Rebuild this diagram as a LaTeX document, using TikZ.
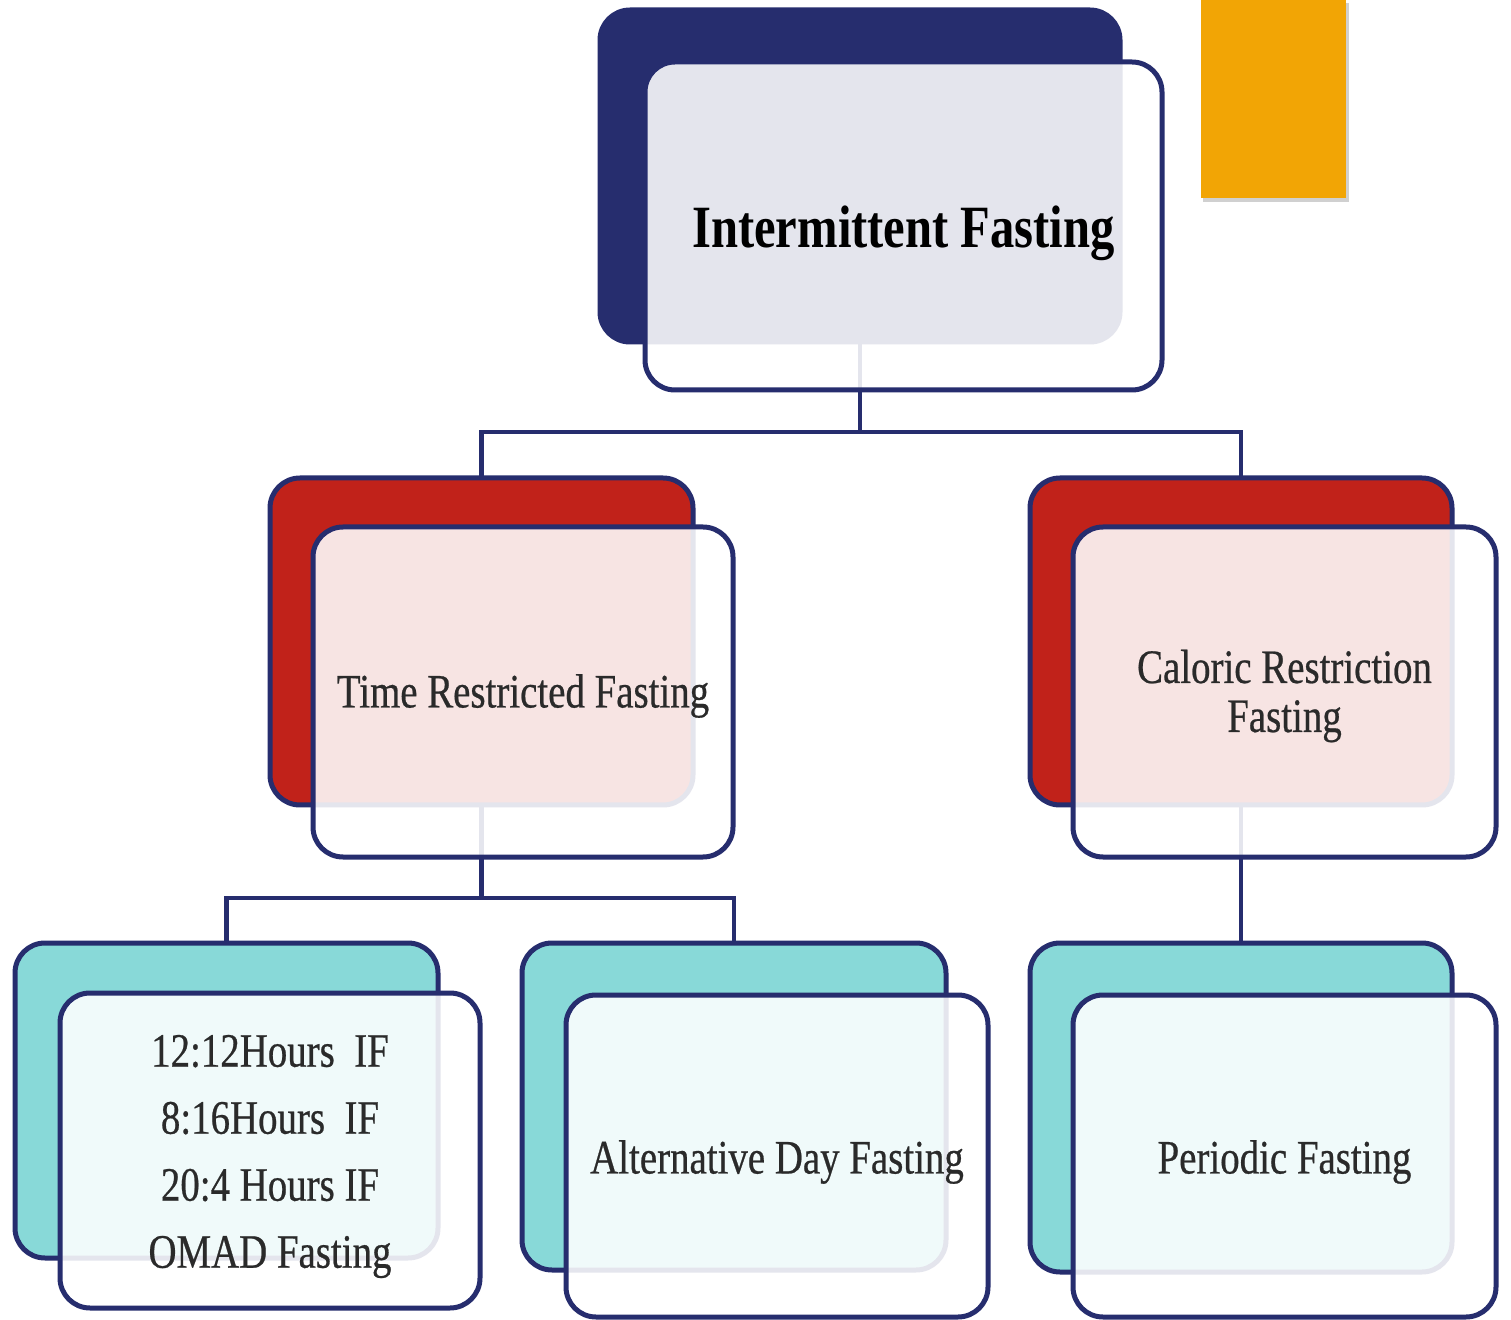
\documentclass[tikz,border=0pt]{standalone}
\usepackage{fontspec}
\setmainfont[FakeStretch=0.81]{Liberation Serif}
\newfontfamily\lblfont[FakeStretch=0.81,FakeBold=0.5]{Liberation Serif}
\definecolor{navy}{HTML}{262D6E}
\definecolor{ifred}{HTML}{C1221A}
\definecolor{ifteal}{HTML}{88D9D8}
\definecolor{iforange}{HTML}{F2A505}
\definecolor{txt}{HTML}{2A2A2A}
\begin{document}
\begin{tikzpicture}[x=0.5pt,y=-0.5pt,
  backbox/.style={draw=navy, line width=2.5pt, rounded corners=15pt, anchor=north west, inner sep=0pt, outer sep=0pt},
  frontbox/.style={draw=navy, line width=2.5pt, rounded corners=15pt, anchor=north west, inner sep=0pt, outer sep=0pt,
    fill=white, fill opacity=0.88},
  lbl/.style={text=txt, align=center, inner sep=0pt, font=\lblfont\fontsize{24}{33.5}\selectfont},
  conn/.style={draw=navy, line width=2.2pt}]
\useasboundingbox (0,0) rectangle (1511,1320);
\fill[white] (0,0) rectangle (1511,1320);
% orange accent
\fill[black!30, opacity=0.6] (1203,3) rectangle (1349,202);
\fill[iforange] (1201,0) rectangle (1346,198);
% back boxes
\node[backbox, fill=navy, minimum width=260pt, minimum height=166pt] (topb) at (600,10) {};
\node[backbox, fill=ifred, minimum width=211.5pt, minimum height=163.5pt] (trfb) at (270,478) {};
\node[backbox, fill=ifred, minimum width=211pt, minimum height=163.5pt] (crfb) at (1030,478) {};
\node[backbox, fill=ifteal, minimum width=211.5pt, minimum height=157.5pt] (hrsb) at (15,943) {};
\node[backbox, fill=ifteal, minimum width=212pt, minimum height=163.5pt] (adfb) at (522,943) {};
\node[backbox, fill=ifteal, minimum width=211pt, minimum height=164.5pt] (pfb) at (1030,943) {};
% connectors
\draw[conn] (topb.south) -- ++(0,90) coordinate (j1) -| (trfb.north);
\draw[conn] (j1) -| (crfb.north);
\draw[conn] (trfb.south) -- ++(0,93) coordinate (j2) -| (hrsb.north);
\draw[conn] (j2) -| (adfb.north);
\draw[conn] (crfb.south) -- (pfb.north);
% front boxes
\node[frontbox, minimum width=258.5pt, minimum height=164pt] (top) at (645,62) {};
\node[frontbox, minimum width=210pt, minimum height=165pt] (trf) at (313,527) {};
\node[frontbox, minimum width=211.5pt, minimum height=165pt] (crf) at (1073,527) {};
\node[frontbox, minimum width=210pt, minimum height=157.5pt] (hrs) at (60,993) {};
\node[frontbox, minimum width=211pt, minimum height=161pt] (adf) at (566,995) {};
\node[frontbox, minimum width=211.5pt, minimum height=161pt] (pf) at (1073,995) {};
% labels
\node[lbl, text=black, font=\bfseries\fontsize{30}{36}\selectfont] (topt) at ([yshift=-3.5pt]top.center) {Intermittent Fasting};
\node[lbl] (trft) at ([yshift=-2pt]trf.center) {Time Restricted Fasting};
\node[lbl, font=\lblfont\fontsize{24}{24.5}\selectfont] (crft) at ([yshift=-2pt]crf.center) {Caloric Restriction\\Fasting};
\node[lbl] (hrst) at ([yshift=-3pt]hrs.center) {12:12Hours\ \ IF\\8:16Hours\ \ IF\\20:4 Hours IF\\OMAD Fasting};
\node[lbl] (adft) at ([yshift=-3pt]adf.center) {Alternative Day Fasting};
\node[lbl] (pft) at ([yshift=-3pt]pf.center) {Periodic Fasting};
\end{tikzpicture}
\end{document}
